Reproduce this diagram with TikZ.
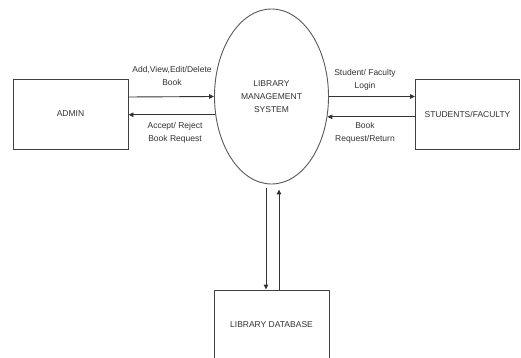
\documentclass[tikz,border=0pt]{standalone}
\usepackage{fontspec}
\setmainfont{Liberation Sans}
\usetikzlibrary{shapes.geometric,arrows.meta}
\begin{document}
\begin{tikzpicture}[x=1pt,y=-1pt,
  line width=0.9pt,
  every node/.style={text=black!80,font=\fontsize{8.5}{13}\selectfont},
  entity/.style={draw=black!75,rectangle,inner sep=0pt},
  process/.style={draw=black!65,ellipse,inner sep=0pt,align=center,minimum width=114pt,minimum height=175pt},
  flow/.style={draw=black!80,-{Triangle[length=5pt,width=4.5pt]}},
  lbl/.style={align=center,inner sep=0pt}]
\useasboundingbox (0,0) rectangle (521,358);
\clip (0,0) rectangle (521,358);
\fill[white] (0,0) rectangle (521,358);
\node[process] (lms) at (271.5,96.5) {LIBRARY\\MANAGEMENT\\SYSTEM};
\node[entity,minimum width=115pt,minimum height=70pt] (admin) at (70.5,114) {ADMIN};
\node[entity,minimum width=104pt,minimum height=70pt] (stud) at (467.5,114) {STUDENTS/FACULTY};
\node[entity,minimum width=115pt,minimum height=70pt] (db) at (271.5,325) {LIBRARY DATABASE};
% flows
\draw[flow] (admin.east |- 0,97) -- (lms.180);
\draw[flow] (lms.198) -- (lms.198 -| admin.east);
\draw[flow] (lms.0) -- (lms.0 -| stud.west);
\draw[flow] (stud.west |- lms.340.7) -- (lms.340.7);
\draw[flow] ([xshift=-5.5pt,yshift=-4pt]lms.south) -- ([xshift=-5.5pt]db.north);
\draw[flow] ([xshift=7.5pt]db.north) -- ([xshift=7.5pt,yshift=-5pt]lms.south);
% labels
\node[lbl] (l1) at (172,75.5) {Add,View,Edit/Delete\\Book};
\node[lbl] (l2) at (175,132.5) {Accept/ Reject\\Book Request};
\node[lbl] (l3) at (365,80) {Student/ Faculty\\Login};
\node[lbl] (l4) at (365,132.5) {Book\\Request/Return};
\end{tikzpicture}
\end{document}
